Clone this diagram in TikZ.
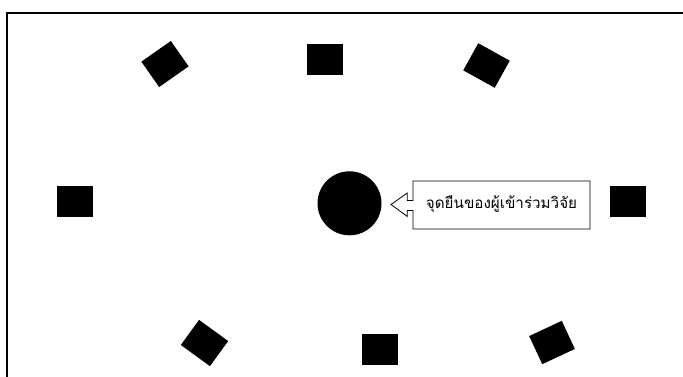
\documentclass[tikz,border=0pt]{standalone}
\usepackage{fontspec}
\newfontfamily\thaifont[Script=Thai]{Loma}
\begin{document}
\begin{tikzpicture}[x=1pt,y=-1pt,
  seat/.style={fill=black,draw=none,minimum width=36pt,minimum height=31pt,inner sep=0pt,rectangle},
  spot/.style={circle,fill=black,draw=none,minimum size=64pt,inner sep=0pt},
  label/.style={font=\thaifont\fontsize{15.2}{17}\selectfont,inner sep=0pt,text=black}]
\useasboundingbox (0,0) rectangle (683,376);
\draw[line width=1.2pt] (690,13) -- (7,13) -- (7,385);
\node[seat,rotate=35] (s1) at (165,64) {};
\node[seat] (s2) at (324.7,59.2) {};
\node[seat,rotate=-29] (s3) at (486.5,65.5) {};
\node[seat] (s4) at (74.7,201.7) {};
\node[seat] (s5) at (628,201.7) {};
\node[seat,rotate=-36] (s6) at (204.5,343) {};
\node[seat] (s7) at (380.3,349.5) {};
\node[seat,rotate=25] (s8) at (552,342.5) {};
\node[spot] (c) at (349.5,203.3) {};
\node[label] (t) at (501.5,204) {จุดยืนของผู้เข้าร่วมวิจัย};
\draw[line width=0.8pt,line join=miter]
  (413,181) -- (590,181) -- (590,229) -- (413,229) -- (413,210.5)
  -- (407.3,210.5) -- (407.3,216.5) -- (391,204.5) -- (407.3,193)
  -- (407.3,200.5) -- (413,200.5) -- cycle;
\end{tikzpicture}
\end{document}
